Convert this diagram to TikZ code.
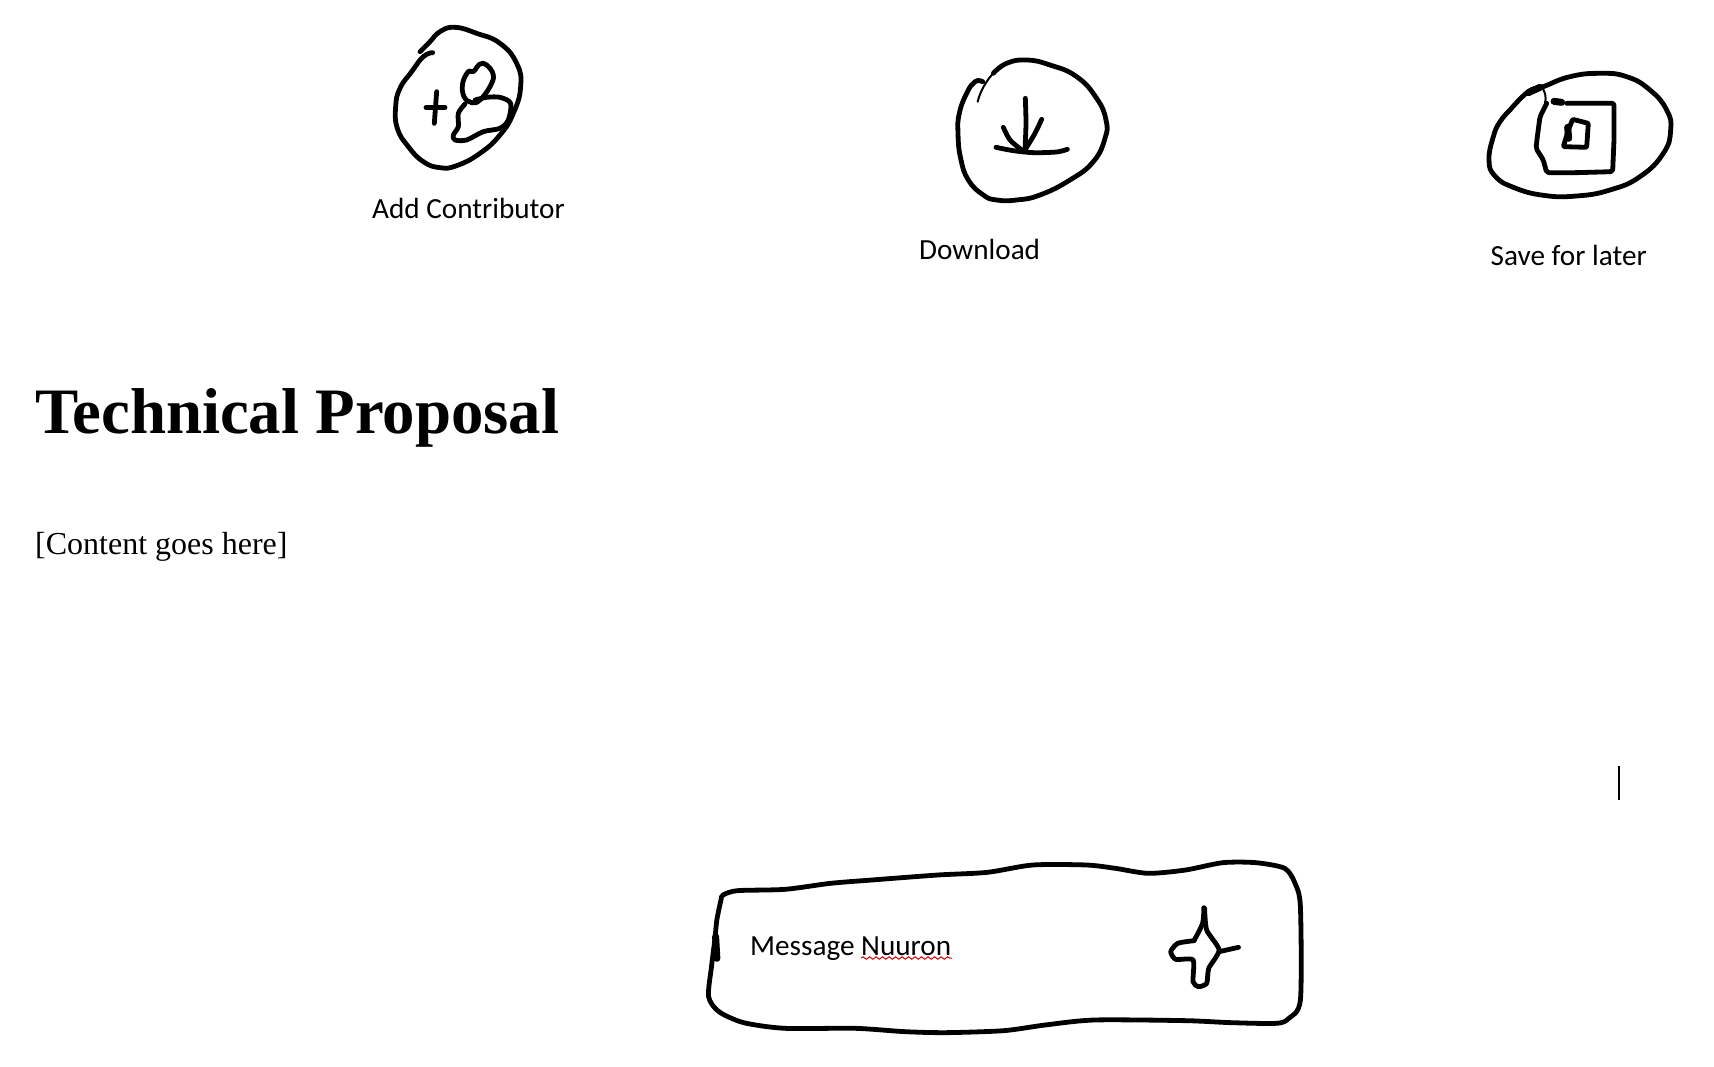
\documentclass[tikz,border=0pt]{standalone}
\usepackage{fontspec}
\setmainfont{Liberation Serif}
\newfontfamily\calib{Carlito}
\usetikzlibrary{decorations.pathmorphing}
\tikzset{
  ink/.style={draw=black,line width=4.8pt,line cap=round,line join=round},
  inkb/.style={draw=black,line width=7pt,line cap=round,line join=round},
  thin ink/.style={draw=black,line width=2pt,line cap=round,line join=round},
  uitext/.style={anchor=base west,inner sep=0pt,font=\calib\fontsize{29.2}{34}\selectfont},
  zoomed/.style={x=0.3333pt,y=-0.3333pt},
}
\begin{document}
\begin{tikzpicture}[x=1pt,y=-1pt]
\useasboundingbox (0,0) rectangle (1714,1066);
% icon 1
\begin{scope}[shift={(340pt,0pt)},zoomed]
\draw[ink] plot[smooth,tension=.8] coordinates {(278,158)(250,170)(215,215)(180,265)(167,320)(172,385)(205,440)(250,485)(300,503)(350,497)(420,460)(480,405)(520,340)(542,260)(530,190)(480,130)(410,100)(345,82)(300,95)(270,125)(240,155)};
\draw[ink] (290,275)--(283,370);
\draw[ink] (258,322)--(315,322);
\draw[ink] plot[smooth cycle,tension=.7] coordinates {(400,215)(385,215)(368,250)(372,290)(395,308)(420,300)(450,260)(460,225)(440,195)(420,192)};
\draw[ink] plot[smooth,tension=.5] coordinates {(405,300)(440,292)(480,292)(512,310)(505,360)(480,385)(430,395)(380,420)(345,420)(340,405)(355,380)(355,340)(375,312)};
\end{scope}
% icon 2
\begin{scope}[shift={(900pt,-30pt)},zoomed]
\draw[ink] plot[smooth,tension=.8] coordinates {(248,155)(225,155)(200,190)(178,250)(174,310)(182,385)(205,450)(250,495)(290,510)(350,510)(420,495)(510,450)(580,395)(615,325)(618,270)(590,205)(530,140)(450,105)(380,90)(320,100)(280,130)};
\draw[thin ink] (280,130) .. controls (260,150) and (240,185) .. (233,215);
\draw[ink] plot[smooth] coordinates {(376,205)(378,280)(375,360)};
\draw[ink] plot[smooth] coordinates {(310,292)(330,330)(368,362)};
\draw[ink] plot[smooth] coordinates {(425,268)(405,310)(378,355)};
\draw[ink] plot[smooth] coordinates {(288,352)(340,362)(400,368)(470,366)(502,358)};
\end{scope}
% icon 3
\begin{scope}[shift={(1460pt,-40pt)},zoomed]
\draw[ink] plot[smooth,tension=.8] coordinates {(150,210)(205,155)(250,140)(330,110)(420,100)(500,110)(570,150)(620,210)(632,270)(610,340)(540,410)(450,450)(350,468)(250,466)(160,442)(105,408)(87,360)(100,290)(120,245)(150,210)};
\draw[inkb] (205,158)--(240,142);
\draw[thin ink] (245,140) .. controls (255,155) and (260,170) .. (255,190);
\draw[ink,rounded corners=2pt] (260,190)--(240,230)--(232,290)--(228,325)--(250,360)--(260,398)--(350,398)--(458,395)--(462,300)--(462,190)--(380,190)--(320,190);
\draw[inkb] (282,184)--(305,187);
\draw[ink,rounded corners=1pt] (338,238)--(385,250)--(380,322)--(310,320)--(325,270)--cycle;
\draw[inkb] (323,262)--(326,295);
\end{scope}
% message box
\begin{scope}[shift={(690pt,-840pt)},x=0.413pt,y=-0.3333pt]
\draw[ink] plot[smooth cycle,tension=.45] coordinates {(80,165)(115,152)(230,148)(340,130)(440,120)(600,105)(720,97)(830,75)(960,75)(1030,85)(1110,100)(1200,90)(1290,68)(1370,68)(1440,85)(1465,130)(1478,200)(1478,480)(1450,535)(1420,550)(1310,548)(1200,542)(980,540)(860,555)(760,572)(620,578)(520,575)(400,565)(230,565)(130,548)(70,515)(45,470)(52,380)(60,300)(65,240)(75,180)};
\draw[inkb] (62,290)--(65,355);
\begin{scope}[xshift=2.5pt]
\draw[ink] plot[smooth,tension=.5] coordinates {(1238,203)(1235,250)(1215,300)};
\draw[ink] plot[smooth,tension=.4] coordinates {(1240,205)(1245,270)(1275,330)(1250,385)(1245,430)(1225,440)(1212,425)(1212,360)(1170,358)(1158,335)(1175,310)(1215,302)};
\draw[ink] (1275,335)--(1322,322);
\end{scope}
\end{scope}
% texts
\node[uitext] (addc) at (372,218) {Add Contributor};
\node[uitext] (down) at (919,259) {Download};
\node[uitext] (save) at (1490.5,265) {Save for later};
\node[anchor=base west,inner sep=0pt,font=\bfseries\fontsize{64.8}{70}\selectfont] (title) at (35,433) {Technical Proposal};
\node[anchor=base west,inner sep=0pt,font=\fontsize{32}{38}\selectfont] (body) at (35,554) {[Content goes here]};
\node[uitext] (msg) at (750,955) {Message Nuuron};
\draw[red!85!black,line width=1pt,decorate,decoration={snake,amplitude=1.2pt,segment length=6.5pt}] (861,958)--(952,958);
\draw[black,line width=1.4pt] (1619,766)--(1619,800);
\end{tikzpicture}
\end{document}
